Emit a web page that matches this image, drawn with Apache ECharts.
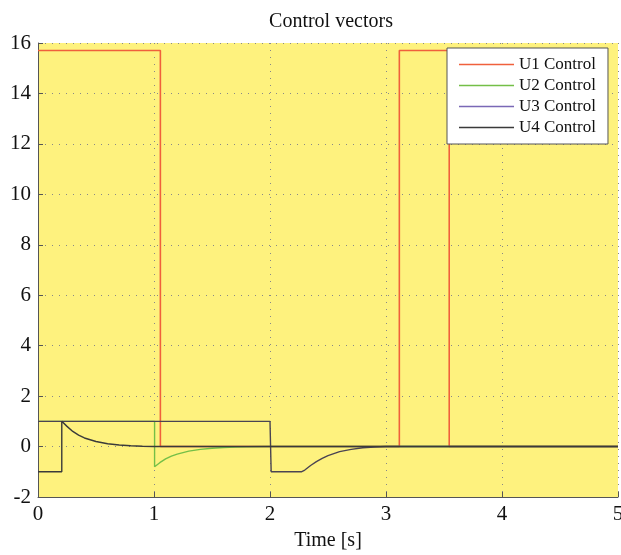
<!DOCTYPE html>
<html>
<head>
<meta charset="utf-8">
<script src="https://cdn.jsdelivr.net/npm/echarts@6/dist/echarts.min.js"></script>
<style>html,body{margin:0;padding:0;background:#fff}#c{width:621px;height:555px}</style>
</head>
<body>
<div id="c"></div>
<script>
var seriesNames = ['U1 Control', 'U2 Control', 'U3 Control', 'U4 Control'];
var u1T = [0, 1.055, 1.055, 3.115, 3.115, 3.545, 3.545, 5];
var u1V = [15.7, 15.7, 0, 0, 15.7, 15.7, 0, 0];
var u2T = [0, 1.005, 1.005, 1.05, 1.1, 1.15, 1.2, 1.3, 1.4, 1.5, 1.6, 1.7, 1.8, 2.0, 5];
var u2V = [1, 1, -0.8, -0.64, -0.49, -0.38, -0.3, -0.18, -0.11, -0.07, -0.04, -0.02, -0.01, 0, 0];
var u3T = [0, 2.0, 2.01, 2.27, 2.3, 2.35, 2.4, 2.45, 2.5, 2.6, 2.7, 2.8, 2.9, 3.0, 5];
var u3V = [1, 1, -1, -1, -0.93, -0.75, -0.6, -0.47, -0.36, -0.2, -0.11, -0.05, -0.02, 0, 0];
var u4T = [0, 0.205, 0.205, 0.25, 0.3, 0.35, 0.4, 0.5, 0.6, 0.7, 0.8, 0.9, 1.0, 5];
var u4V = [-1, -1, 1, 0.8, 0.6, 0.45, 0.34, 0.2, 0.11, 0.06, 0.03, 0.015, 0.005, 0];
var xTicks = [0, 1, 2, 3, 4, 5];
var yTicks = [-2, 0, 2, 4, 6, 8, 10, 12, 14, 16];

function pairs(t, v) { return t.map(function (x, i) { return [x, v[i]]; }); }
var legendColors = ['#f0603c', '#74bf47', '#7a68b6', '#3a3a3a'];
var lineColors = ['#f0603c', '#74bf47', '#4a4452', '#3a3a3a'];
var widths = [1.6, 1.4, 1.4, 1.4];
var data = [pairs(u1T, u1V), pairs(u2T, u2V), pairs(u3T, u3V), pairs(u4T, u4V)];
var font = '"Liberation Serif", "Times New Roman", serif';

var chart = echarts.init(document.getElementById('c'), null, { renderer: 'canvas' });
chart.setOption({
  animation: false,
  backgroundColor: '#ffffff',
  title: {
    text: 'Control vectors', left: 326, top: 7, textAlign: 'center',
    textStyle: { fontFamily: font, fontSize: 20, fontWeight: 'normal', color: '#111' }
  },
  grid: { left: 38, right: 3, top: 43, bottom: 58, show: true, backgroundColor: '#fef27e', borderWidth: 0, outerBoundsMode: 'none', containLabel: false },
  legend: {
    orient: 'vertical', left: 447, top: 48,
    data: seriesNames.map(function (n, i) { return { name: n, itemStyle: { color: legendColors[i] } }; }),
    icon: 'rect',
    backgroundColor: '#ffffff', borderColor: '#555', borderWidth: 1,
    padding: [8, 12, 8, 12], itemGap: 4, itemWidth: 55, itemHeight: 1.5,
    textStyle: { fontFamily: font, fontSize: 17, color: '#111', lineHeight: 17 }
  },
  xAxis: {
    type: 'value', min: xTicks[0], max: xTicks[xTicks.length - 1], interval: 1,
    name: 'Time [s]', nameLocation: 'middle', nameGap: 34,
    nameTextStyle: { fontFamily: font, fontSize: 20, color: '#111' },
    axisLine: { onZero: false, lineStyle: { color: '#555', width: 1 } },
    axisTick: { inside: true, length: 5, lineStyle: { color: '#555' } },
    axisLabel: { fontFamily: font, fontSize: 21, color: '#111', margin: 7 },
    splitLine: { show: true, lineStyle: { type: [1, 6], color: '#888', width: 1 } }
  },
  yAxis: {
    type: 'value', min: yTicks[0], max: yTicks[yTicks.length - 1], interval: 2,
    axisLine: { show: true, lineStyle: { color: '#555', width: 1 } },
    axisTick: { show: true, inside: true, length: 5, lineStyle: { color: '#555' } },
    axisLabel: { fontFamily: font, fontSize: 21, color: '#111', margin: 7 },
    splitLine: { show: true, lineStyle: { type: [1, 6], color: '#888', width: 1 } }
  },
  series: seriesNames.map(function (n, i) {
    return {
      name: n, type: 'line', data: data[i], showSymbol: false, symbol: 'none',
      lineStyle: { color: lineColors[i], width: widths[i] }, itemStyle: { color: lineColors[i] }
    };
  })
});
</script>
</body>
</html>
